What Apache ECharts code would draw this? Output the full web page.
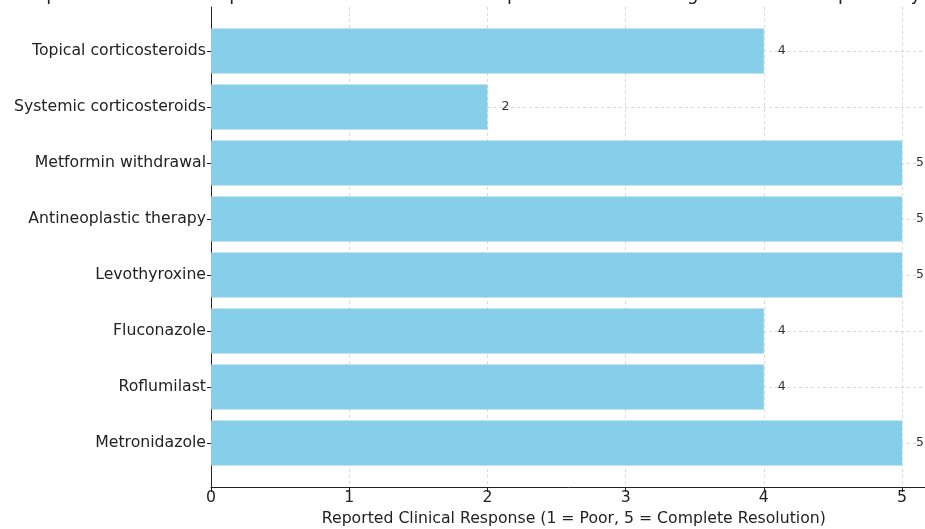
<!DOCTYPE html>
<html>
<head>
<meta charset="utf-8">
<script src="https://cdn.jsdelivr.net/npm/echarts@6/dist/echarts.min.js"></script>
<style>
html,body{margin:0;padding:0;background:#fff;}
#chart{width:925px;height:529px;}
</style>
</head>
<body>
<div id="chart"></div>
<script>
const categories = [
  "Topical corticosteroids",
  "Systemic corticosteroids",
  "Metformin withdrawal",
  "Antineoplastic therapy",
  "Levothyroxine",
  "Fluconazole",
  "Roflumilast",
  "Metronidazole"
];
const responses = [4, 2, 5, 5, 5, 4, 4, 5];
const xTicks = [0, 1, 2, 3, 4, 5];
const titleText = "Figure 3: Comparative Clinical Response to Treatments Across Reported Cases of Drug-Associated Eruptions by Strategy";
const xAxisTitle = "Reported Clinical Response (1 = Poor, 5 = Complete Resolution)";

const FONT = "DejaVu Sans";
const FS = 15.7;
const chart = echarts.init(document.getElementById('chart'), null, {renderer: 'canvas'});
const gridLine = {show: true, lineStyle: {color: '#d0d0d0', type: [3, 3], width: 0.8}};

chart.setOption({
  animation: false,
  backgroundColor: '#ffffff',
  textStyle: {fontFamily: FONT},
  title: {
    text: titleText,
    left: 'center',
    top: -19,
    textStyle: {fontFamily: FONT, fontSize: 18, fontWeight: 'normal', color: '#222'}
  },
  grid: [
    {left: 211, top: 7, width: 725.6, height: 480, containLabel: false, outerBoundsMode: 'none'},
    {left: 211, top: 23, width: 725.6, height: 448, containLabel: false, outerBoundsMode: 'none'}
  ],
  xAxis: [
    {
      gridIndex: 0, type: 'value', min: xTicks[0], max: 5.25, interval: 1,
      axisLine: {show: true, onZero: false, lineStyle: {color: '#222', width: 1}},
      axisTick: {show: true, length: 5, lineStyle: {color: '#222'}},
      axisLabel: {showMaxLabel: false, fontFamily: FONT, fontSize: FS, color: '#222', margin: 3,
        formatter: v => xTicks.includes(v) ? String(v) : ''},
      splitLine: gridLine,
      name: xAxisTitle, nameLocation: 'middle', nameGap: 24,
      nameTextStyle: {fontFamily: FONT, fontSize: FS, color: '#222'}
    },
    {
      gridIndex: 1, type: 'value', min: 0, max: 5.25, show: false
    }
  ],
  yAxis: [
    {
      gridIndex: 0, type: 'value', min: 0, max: 1,
      axisLine: {show: true, lineStyle: {color: '#222', width: 1}},
      axisTick: {show: false}, axisLabel: {show: false}, splitLine: {show: false}
    },
    {
      gridIndex: 1, type: 'category', inverse: true, data: categories,
      axisLine: {show: false},
      axisTick: {show: true, alignWithLabel: true, length: 4, lineStyle: {color: '#222'}},
      axisLabel: {fontFamily: FONT, fontSize: FS, color: '#222', margin: 5},
      splitLine: Object.assign({alignWithLabel: true}, gridLine)
    }
  ],
  series: [{
    type: 'bar',
    xAxisIndex: 1, yAxisIndex: 1,
    data: responses,
    barWidth: '80%',
    itemStyle: {color: '#87CEEB'},
    label: {show: true, position: 'right', distance: 14, fontFamily: FONT, fontSize: 12.5, color: '#333'}
  }]
});
</script>
</body>
</html>
